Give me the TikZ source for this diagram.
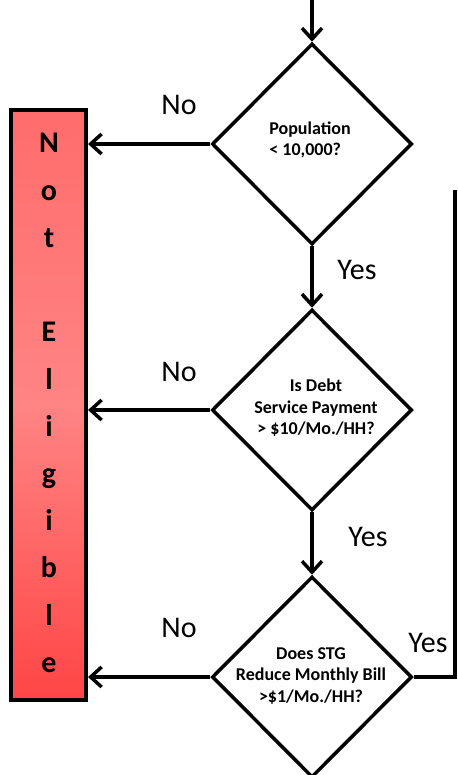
\documentclass[tikz,border=0pt]{standalone}
\usepackage{fontspec}
\setmainfont{Carlito}
\usetikzlibrary{shapes.geometric,arrows.meta}
\definecolor{boxtop}{HTML}{FF6C6C}
\definecolor{boxmid}{HTML}{FF8484}
\definecolor{boxbot}{HTML}{FF4545}
\tikzset{
  dia/.style={draw, diamond, line width=3.5pt, minimum width=200pt, minimum height=201pt, inner sep=0pt, fill=white},
  dtext/.style={align=center, font=\fontsize{18}{21.5}\selectfont\bfseries, inner sep=0pt},
  nebox/.style={draw, rectangle, line width=4pt, minimum width=75pt, minimum height=590pt, inner sep=0pt,
    top color=boxtop, bottom color=boxbot, middle color=boxmid},
  letter/.style={font=\fontsize{30}{30}\selectfont\bfseries, anchor=base, inner sep=0pt},
  lab/.style={font=\fontsize{30}{30}\selectfont, inner sep=0pt},
  arr/.style={line width=3.5pt, -{Straight Barb[length=11pt,width=20pt]}},
  ln/.style={line width=3.5pt},
}
\begin{document}
\begin{tikzpicture}[x=1pt,y=-1pt]
\useasboundingbox (0,0) rectangle (457,775);
\node[nebox] (ne) at (48.5,405) {};
\foreach \c [count=\i from 0] in {N,o,t,{},E,l,i,g,i,b,l,e}
  \node[letter] (L\i) at (49,{153+47.2*\i}) {\c};
\node[dia] (d1) at (312,144) {};
\node[dia] (d2) at (312,410) {};
\node[dia] (d3) at (312,677) {};
\node[dtext, align=left] (t1) at (310,140) {Population\\< 10,000?};
\node[dtext] (t2) at (316,408) {Is Debt\\Service Payment\\> \$10/Mo./HH?};
\node[dtext] (t3) at (311,676) {Does STG\\Reduce Monthly Bill\\>\$1/Mo./HH?};
\coordinate (top) at (312,0);
\coordinate (c1) at (455,190);
\draw[arr] (top) -- (d1.north);
\draw[arr] (d1.south) -- (d2.north);
\draw[arr] (d2.south) -- (d3.north);
\draw[arr] (d1.west) -- (d1.west -| ne.east);
\draw[arr] (d2.west) -- (d2.west -| ne.east);
\draw[arr] (d3.west) -- (d3.west -| ne.east);
\draw[ln] (d3.east) -| (c1);
\node[lab] (n1) at (179,105) {No};
\node[lab] (n2) at (179,372) {No};
\node[lab] (n3) at (179,628) {No};
\node[lab] (y1) at (357,270) {Yes};
\node[lab] (y2) at (368,537) {Yes};
\node[lab] (y3) at (428,643) {Yes};
\end{tikzpicture}
\end{document}
